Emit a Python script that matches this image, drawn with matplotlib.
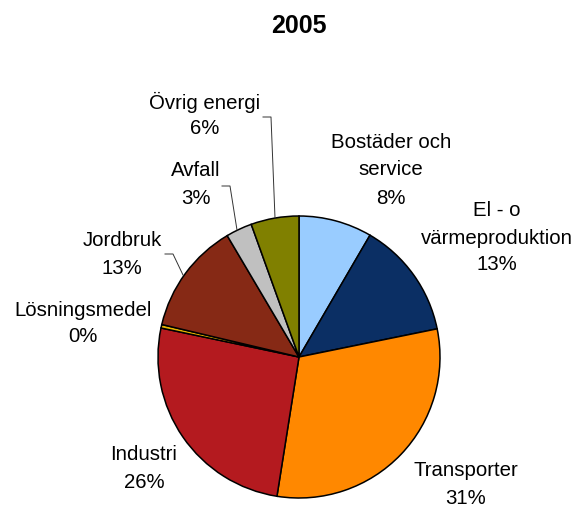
import matplotlib
matplotlib.use("Agg")
import matplotlib.pyplot as plt
from matplotlib.lines import Line2D

plt.rcParams['font.family'] = ['Liberation Sans', 'DejaVu Sans']

title = "2005"
categories = ["Bostäder och\nservice", "El - o\nvärmeproduktion", "Transporter", "Industri",
              "Lösningsmedel", "Jordbruk", "Avfall", "Övrig energi"]
values = [8.4, 13.4, 30.7, 25.8, 0.4, 12.8, 3.0, 5.5]
pct_labels = ["8%", "13%", "31%", "26%", "0%", "13%", "3%", "6%"]
colors = ["#99CCFF", "#0B2F64", "#FF8800", "#B41A1F", "#E6B400", "#862915", "#C0C0C0", "#808000"]

W, H = 575, 507
fig = plt.figure(figsize=(W / 100, H / 100), dpi=100)

cx, cy, r = 299, 357, 141
ax = fig.add_axes([(cx - r) / W, (H - cy - r) / H, 2 * r / W, 2 * r / H])
ax.pie(values, colors=colors, startangle=90, counterclock=False, radius=1,
       wedgeprops=dict(edgecolor="black", linewidth=1.1))
ax.set_xlim(-1, 1)
ax.set_ylim(-1, 1)
ax.set_aspect("equal")
ax.axis("off")

def fx(x):
    return x / W

def fy(y):
    return 1 - y / H

fig.text(fx(299), fy(26), title, ha="center", va="center", fontsize=18, fontweight="bold")

# label line centers (pixel coords)
label_pos = [
    (391, [142, 170, 198]),
    (497, [210, 238, 265]),
    (466, [470, 498]),
    (144, [454, 482]),
    (83, [310, 337]),
    (122, [241, 268]),
    (196, [171, 198]),
    (205, [102, 129]),
]
for cat, pct, (x, ys) in zip(categories, pct_labels, label_pos):
    lines = cat.split("\n") + [pct]
    for line, y in zip(lines, ys):
        fig.text(fx(x), fy(y), line, ha="center", va="center", fontsize=14.7)

# leader lines
leaders = [
    [(263, 117), (271, 117), (275, 218)],
    [(222, 186), (230, 186), (237, 230)],
    [(165, 254), (173, 254), (183, 275)],
]
for pts in leaders:
    xs = [fx(p[0]) for p in pts]
    ys = [fy(p[1]) for p in pts]
    fig.add_artist(Line2D(xs, ys, color="#333333", linewidth=0.7, transform=fig.transFigure))

fig.savefig("out.png", dpi=100)
